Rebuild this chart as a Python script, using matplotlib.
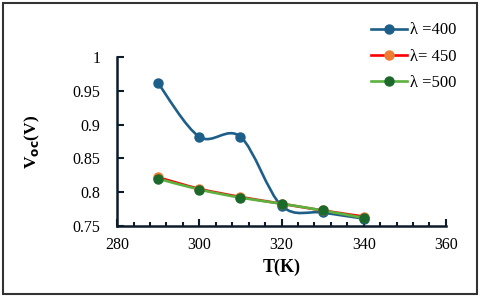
import numpy as np
import matplotlib
matplotlib.use("Agg")
import matplotlib.pyplot as plt
from matplotlib.path import Path
from matplotlib.patches import PathPatch, Rectangle
from matplotlib.lines import Line2D

T = [290, 300, 310, 320, 330, 340]
v400 = [0.961, 0.882, 0.882, 0.780, 0.770, 0.761]
v450 = [0.822, 0.805, 0.793, 0.783, 0.773, 0.764]
v500 = [0.820, 0.804, 0.792, 0.783, 0.773, 0.762]
labels = ["λ =400", "λ= 450", "λ =500"]

line_colors = ["#1d5f88", "#ff0000", "#5cb23f"]
marker_colors = ["#1d5f88", "#ed7d31", "#1b6a2b"]

plt.rcParams['font.family'] = ['Liberation Serif', 'DejaVu Serif']

fig = plt.figure(figsize=(4.8, 2.97), dpi=100)
ax = fig.add_axes([0.244, 0.239, 0.685, 0.569])


def smooth_path(x, y):
    x = np.asarray(x, float); y = np.asarray(y, float)
    n = len(x)
    verts = [(x[0], y[0])]
    codes = [Path.MOVETO]
    for i in range(n - 1):
        p0 = (x[i - 1], y[i - 1]) if i > 0 else (x[i], y[i])
        p1 = (x[i], y[i]); p2 = (x[i + 1], y[i + 1])
        p3 = (x[i + 2], y[i + 2]) if i + 2 < n else p2
        c1 = (p1[0] + (p2[0] - p0[0]) / 6, p1[1] + (p2[1] - p0[1]) / 6)
        c2 = (p2[0] - (p3[0] - p1[0]) / 6, p2[1] - (p3[1] - p1[1]) / 6)
        verts += [c1, c2, p2]
        codes += [Path.CURVE4] * 3
    return Path(verts, codes)


series = [v400, v450, v500]
for s, lc, mc in zip(series, line_colors, marker_colors):
    ax.add_patch(PathPatch(smooth_path(T, s), fill=False, edgecolor=lc, lw=1.9, zorder=2))
for s, lc, mc in zip(series, line_colors, marker_colors):
    ax.plot(T, s, ls='none', marker='o', ms=6.5, color=mc, zorder=3)

ax.set_xlim(280, 360)
ax.set_ylim(0.75, 1.0)
ax.set_xticks([280, 300, 320, 340, 360])
ax.set_xticks(np.arange(280, 361, 4), minor=True)
ax.set_yticks([0.75, 0.8, 0.85, 0.9, 0.95, 1.0])
ax.set_yticklabels(["0.75", "0.8", "0.85", "0.9", "0.95", "1"])
ax.tick_params(axis='both', which='both', direction='in', color='#0d1b2a', labelsize=11.5)
ax.tick_params(axis='x', which='major', length=5, width=1.5, pad=8)
ax.tick_params(axis='x', which='minor', length=3, width=1.5)
ax.tick_params(axis='y', which='major', length=5, width=1.5, pad=12)
for sp in ['top', 'right']:
    ax.spines[sp].set_visible(False)
for sp in ['left', 'bottom']:
    ax.spines[sp].set_linewidth(1.8)
    ax.spines[sp].set_color('#0d1b2a')

ax.set_xlabel("T(K)", fontsize=13, fontweight='bold', labelpad=4)
ax.set_ylabel(r"V$_{\mathbf{oc}}$(V)", fontsize=12.5, fontweight='bold', labelpad=22)

handles = [Line2D([], [], color=lc, lw=1.9, marker='o', ms=6.5, markerfacecolor=mc,
                  markeredgecolor=mc) for lc, mc in zip(line_colors, marker_colors)]
fig.legend(handles, labels, loc='upper right', bbox_to_anchor=(0.982, 0.975),
           frameon=False, fontsize=12, handlelength=2.2, labelspacing=0.62,
           handletextpad=0.15)

fig.add_artist(Rectangle((0.006, 0.01), 0.988, 0.98, transform=fig.transFigure,
                         fill=False, edgecolor='#333333', lw=1.5))

fig.savefig("out.png", dpi=100)
